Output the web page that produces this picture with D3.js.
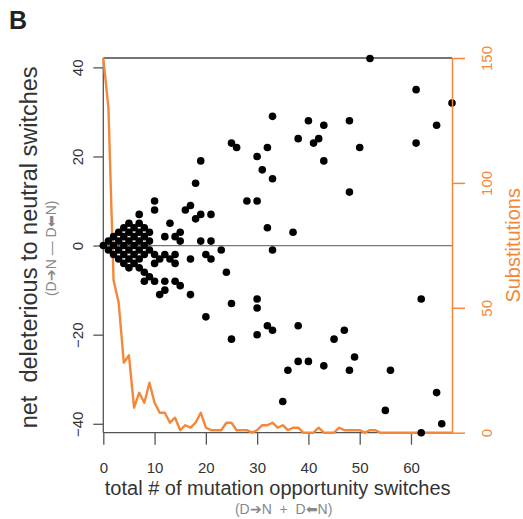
<!DOCTYPE html>
<html>
<head>
<meta charset="utf-8">
<script src="https://cdn.jsdelivr.net/npm/d3@7"></script>
<style>
  body { margin: 0; background: #fff; }
  svg { display: block; }
  text { font-family: "Liberation Sans", Arial, sans-serif; }
  .keep { white-space: pre; }
</style>
</head>
<body>
<svg width="523" height="519"></svg>
<script>
const svg = d3.select("svg");

// total switches (x) and net deleterious->neutral switches (y) for each gene
const switchTotals = [
  0, 1, 1, 2, 2, 2, 3, 3, 3, 3, 4, 4, 4, 4, 4, 5, 5, 5, 5, 5, 5,
  6, 6, 6, 6, 6, 7, 7, 7, 7, 7, 7, 7, 8, 8, 8, 8, 8, 8, 9, 9, 9, 9,
  10, 10, 10, 10, 10, 11, 11, 12, 12, 12, 12, 13, 13, 14, 14, 14, 14,
  15, 15, 15, 16, 17, 17, 17, 18, 18, 19, 19, 19, 20, 20, 21, 21, 21,
  23, 24, 25, 25, 25, 26, 28, 30, 30, 30, 30, 30, 31, 32, 32, 32,
  33, 33, 33, 33, 35, 36, 37, 38, 38, 38, 40, 40, 41, 42, 43, 43, 43,
  45, 47, 48, 48, 48, 49, 50, 52, 55, 56, 61, 61, 62, 62, 65, 65, 66, 68
];
const netSwitches = [
  0, -1, 1, -2, 0, 2, -3, -1, 1, 3, -4, -2, 0, 2, 4, -5, -3, -1, 1, 3, 5,
  -4, -2, 0, 2, 4, -5, -3, -1, 1, 3, 5, 7, -8, -6, -2, 0, 2, 4, -7, -1, 1, 3,
  -8, -4, -2, 8, 10, -3, -11, 2, -2, -8, -10, 5, -3, 2, -2, -4, -8,
  3, 1, -9, 8, 9, -3, -11, 14, 6, 19, 7, 1, -2, -16, 7, 1, -3,
  -1, -6, 23, -13, -21, 22, 10, 20, 10, -12, -14, -20, 17, 22, 4, -18,
  29, 15, -1, -19, -35, -28, 3, 24, -18, -26, 28, -26, 23, 24, 27, 19, -27,
  -21, -19, 28, 12, -28, -25, 22, 42, -37, -28, 35, 23, -12, -42, 27, -33, -40, 32
];

// substitutions per total-switch count (right axis)
const subsSwitch = d3.range(0, 69);
const subsCount = [
  150, 130, 61, 52, 28, 31, 10, 16, 12, 20, 12, 8, 8, 4, 6, 1, 3, 2, 4, 8,
  2, 1, 1, 1, 4, 4, 1, 1, 1, 0, 1, 3, 3, 4, 2, 3, 1, 2, 2, 0,
  0, 0, 2, 0, 0, 0, 2, 1, 1, 1, 1, 0, 1, 1, 0, 0, 0, 0, 0, 0,
  0, 0, 0, 0, 0, 0, 0, 0, 0
];

const xTicks = [0, 10, 20, 30, 40, 50, 60];
const yTicks = [-40, -20, 0, 20, 40];
const subsTicks = [0, 50, 100, 150];

const orange = "#f5873a";
const plotL = 103.3, plotR = 452, plotT = 58, plotB = 432.7;

const x = d3.scaleLinear().domain([0, 68]).range([plotL, plotR]);
const y = d3.scaleLinear().domain([-42, 42.1]).range([plotB, plotT]);
const ySubs = d3.scaleLinear().domain([0, 150]).range([plotB, plotT]);

// panel letter
svg.append("text")
  .attr("x", 9).attr("y", 29)
  .attr("font-size", 25).attr("font-weight", "bold")
  .attr("fill", "#222")
  .text("B");

// frame: top edge
svg.append("line")
  .attr("x1", plotL).attr("x2", plotR).attr("y1", plotT).attr("y2", plotT)
  .attr("stroke", "#444").attr("stroke-width", 1.3);

// zero line
svg.append("line")
  .attr("x1", plotL).attr("x2", plotR).attr("y1", y(0)).attr("y2", y(0))
  .attr("stroke", "#777").attr("stroke-width", 1.3);

// left axis
const yAxis = svg.append("g")
  .attr("transform", `translate(${plotL},0)`)
  .call(d3.axisLeft(y).tickValues(yTicks).tickSize(10).tickSizeOuter(0));
yAxis.select(".domain").attr("d", `M0,${plotT}V${plotB}`).attr("stroke", "#555").attr("stroke-width", 1.3);
yAxis.selectAll(".tick line").attr("stroke", "#555").attr("stroke-width", 1.3);
yAxis.selectAll(".tick text")
  .attr("transform", "rotate(-90)")
  .attr("x", 0).attr("y", -20).attr("dy", 0)
  .style("text-anchor", "middle")
  .attr("font-size", 15).attr("fill", "#333")
  .text(d => d < 0 ? "\u2212" + Math.abs(d) : d);

// bottom axis
const xAxis = svg.append("g")
  .attr("transform", `translate(0,${plotB})`)
  .call(d3.axisBottom(x).tickValues(xTicks).tickSize(12).tickSizeOuter(0));
xAxis.select(".domain").attr("d", `M${plotL},0H${plotR}`).attr("stroke", "#555").attr("stroke-width", 1.3);
xAxis.selectAll(".tick line").attr("stroke", "#555").attr("stroke-width", 1.3);
xAxis.selectAll(".tick text")
  .attr("y", 40).attr("dy", 0)
  .attr("font-size", 15).attr("fill", "#333");

// substitutions line (drawn under the points)
const line = d3.line()
  .x((d, i) => x(subsSwitch[i]))
  .y(d => ySubs(d));
svg.append("path")
  .datum(subsCount)
  .attr("d", line)
  .attr("fill", "none")
  .attr("stroke", orange)
  .attr("stroke-width", 2.4)
  .attr("stroke-linejoin", "round");

// points
svg.append("g")
  .selectAll("circle")
  .data(switchTotals)
  .join("circle")
  .attr("cx", d => x(d))
  .attr("cy", (d, i) => y(netSwitches[i]))
  .attr("r", 3.8)
  .attr("fill", "#000");

// right axis
const rAxis = svg.append("g")
  .attr("transform", `translate(${plotR},0)`)
  .call(d3.axisRight(ySubs).tickValues(subsTicks).tickSize(13).tickSizeOuter(0));
rAxis.select(".domain").attr("stroke", orange).attr("stroke-width", 1.5);
rAxis.selectAll(".tick line").attr("stroke", orange).attr("stroke-width", 1.5);
rAxis.selectAll(".tick text")
  .attr("transform", "rotate(-90)")
  .attr("x", 0).attr("y", 40).attr("dy", 0)
  .style("text-anchor", "middle")
  .attr("font-size", 15).attr("fill", orange);

// axis titles
svg.append("text")
  .attr("class", "keep")
  .attr("transform", `translate(37,${(plotT + plotB) / 2 + 2}) rotate(-90)`)
  .attr("text-anchor", "middle")
  .attr("font-size", 23.5).attr("fill", "#333")
  .text("net  deleterious to neutral switches");

svg.append("text")
  .attr("class", "keep")
  .attr("transform", `translate(56,${(plotT + plotB) / 2 + 3}) rotate(-90)`)
  .attr("text-anchor", "middle")
  .attr("font-size", 14).attr("fill", "#888")
  .text("(D\u2794N \u2014 D\u2B05N)");

svg.append("text")
  .attr("x", (plotL + plotR) / 2).attr("y", 495)
  .attr("text-anchor", "middle")
  .attr("font-size", 20).attr("fill", "#333")
  .text("total # of mutation opportunity switches");

svg.append("text")
  .attr("class", "keep")
  .attr("x", (plotL + plotR) / 2 + 6).attr("y", 514)
  .attr("text-anchor", "middle")
  .attr("font-size", 14).attr("fill", "#888")
  .text("(D\u2794N  +  D\u2B05N)");

svg.append("text")
  .attr("transform", `translate(520,${(plotT + plotB) / 2}) rotate(-90)`)
  .attr("text-anchor", "middle")
  .attr("font-size", 20).attr("fill", orange)
  .text("Substitutions");
</script>
</body>
</html>
